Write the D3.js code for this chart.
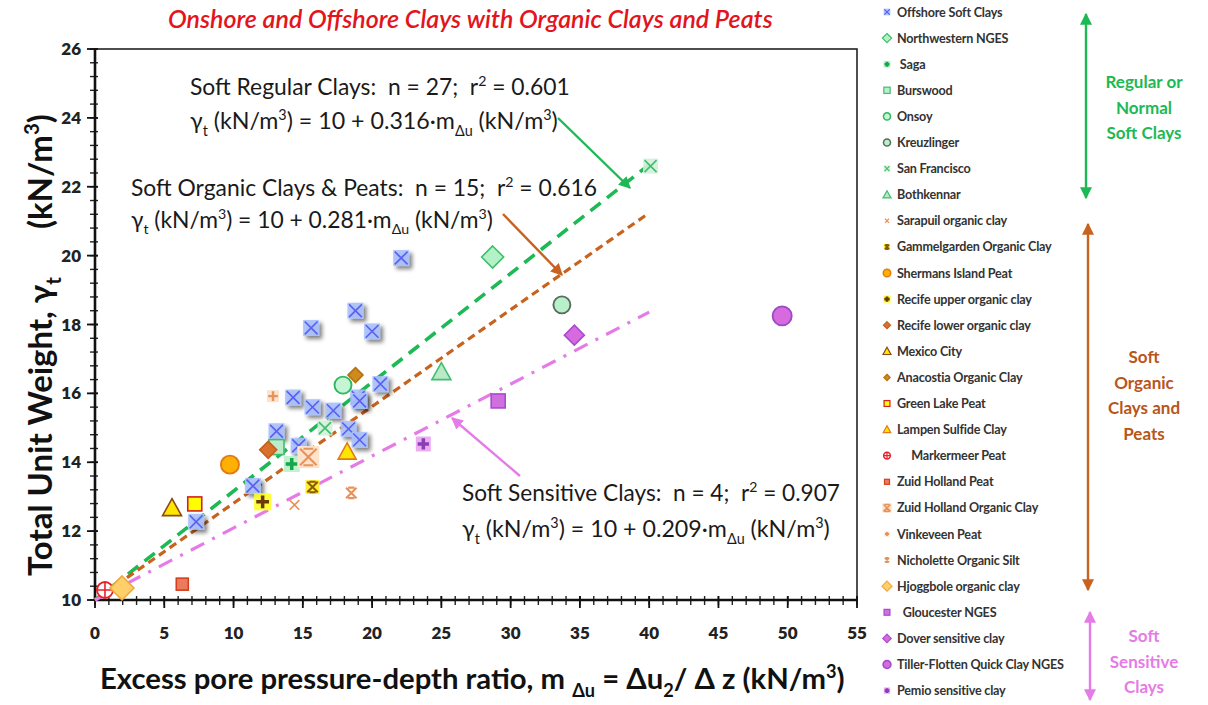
<!DOCTYPE html>
<html>
<head>
<meta charset="utf-8">
<script src="https://cdn.jsdelivr.net/npm/d3@7"></script>
<style>
  body { margin: 0; background: #fff; }
  svg { display: block; font-family: Lato, "Open Sans", sans-serif; }
  text { white-space: pre; }
</style>
</head>
<body>
<svg id="chart" width="1208" height="705"></svg>
<script>
// ---------- data ----------
const xTicks = [0, 5, 10, 15, 20, 25, 30, 35, 40, 45, 50, 55];
const yTicks = [10, 12, 14, 16, 18, 20, 22, 24, 26];

// [m_du (kN/m3), gamma_t (kN/m3)]
const offshoreSoftClays = [
  [22.1, 19.93], [15.6, 17.9], [18.8, 18.4], [20.0, 17.8], [20.6, 16.27],
  [14.3, 15.88], [15.7, 15.6], [17.2, 15.5], [19.0, 15.88], [19.1, 15.78],
  [13.1, 14.9], [14.7, 14.48], [18.3, 14.97], [19.1, 14.65], [11.4, 13.31],
  [7.3, 12.27]
];
const northwesternNGES = [[28.7, 19.96]];
const saga = [[14.2, 13.95]];
const burswood = [[13.1, 14.44]];
const onsoy = [[17.9, 16.24]];
const kreuzlinger = [[33.7, 18.57]];
const sanFrancisco = [[16.6, 14.99], [40.1, 22.6]];
const bothkennar = [[25.0, 16.62]];

const sarapuiOrganic = [[14.4, 12.76]];
const gammelgarden = [[15.7, 13.28]];
const shermansIsland = [[9.74, 13.93]];
const recifeUpper = [[12.1, 12.85]];
const recifeLower = [[12.5, 14.36]];
const mexicoCity = [[5.56, 12.67]];
const anacostia = [[18.8, 16.53]];
const greenLake = [[7.2, 12.79]];
const lampenSulfide = [[18.2, 14.3]];
const markermeer = [[0.72, 10.29]];
const zuidHollandPeat = [[6.3, 10.46]];
const zuidHollandOrganic = [[15.4, 14.15]];
const vinkeveen = [[12.85, 15.92]];
const nicholette = [[18.5, 13.11]];
const hjoggbole = [[1.95, 10.35]];

const gloucester = [[29.1, 15.78]];
const dover = [[34.6, 17.69]];
const tillerFlotten = [[49.6, 18.25]];
const pemio = [[23.7, 14.53]];

const legendNames = [
  "Offshore Soft Clays", "Northwestern NGES", " Saga", "Burswood", "Onsoy",
  "Kreuzlinger", "San Francisco", "Bothkennar", "Sarapuil organic clay",
  "Gammelgarden Organic Clay", "Shermans Island Peat", "Recife upper organic clay",
  "Recife lower organic clay", "Mexico City", "Anacostia Organic Clay",
  "Green Lake Peat", "Lampen Sulfide Clay", "     Markermeer Peat", "Zuid Holland Peat",
  "Zuid Holland Organic Clay", "Vinkeveen Peat", "Nicholette Organic Silt",
  "Hjoggbole organic clay", "  Gloucester NGES", "Dover sensitive clay",
  "Tiller-Flotten Quick Clay NGES", "Pemio sensitive clay"
];
const seriesData = [
  offshoreSoftClays, northwesternNGES, saga, burswood, onsoy, kreuzlinger,
  sanFrancisco, bothkennar, sarapuiOrganic, gammelgarden, shermansIsland,
  recifeUpper, recifeLower, mexicoCity, anacostia, greenLake, lampenSulfide,
  markermeer, zuidHollandPeat, zuidHollandOrganic, vinkeveen, nicholette,
  hjoggbole, gloucester, dover, tillerFlotten, pemio
];

// trend lines: gamma_t = 10 + slope * m_du, for m_du in [0, 40]
const trendSlopes = [0.316, 0.281, 0.209];
const trendCounts = [27, 15, 4];
const trendR2 = [0.601, 0.616, 0.907];
const trendNames = ["Soft Regular Clays", "Soft Organic Clays & Peats", "Soft Sensitive Clays"];
const trendRange = [0, 40];

// ---------- marker styles (per legend entry) ----------
const markerStyle = [
  { shape: "xbox", size: 16, fill: "#a9c1fb", stroke: "#5b5ef3", shadow: true },
  { shape: "diamond", size: 22, fill: "#b4f0c8", stroke: "#3dbf6a" },
  { shape: "plusbox", size: 16, fill: "#b9efcb", stroke: "#14a84a" },
  { shape: "square", size: 15, fill: "#bdeccc", stroke: "#3fbf6c" },
  { shape: "circle", size: 17, fill: "#c5f5d5", stroke: "#2fb85f" },
  { shape: "circle", size: 17, fill: "#b8f0c9", stroke: "#5b6b5e" },
  { shape: "xbox", size: 15, fill: "#d1f1dc", stroke: "#3fbf6c" },
  { shape: "triangle", size: 19, fill: "#b9e9c6", stroke: "#3fbf6c" },
  { shape: "x", size: 12, fill: "none", stroke: "#e8925a" },
  { shape: "asterbox", size: 14, fill: "#ffee33", stroke: "#8a5a00" },
  { shape: "circle", size: 18, fill: "#ffb000", stroke: "#e07b16" },
  { shape: "plusbox", size: 17, fill: "#ffff22", stroke: "#6b3a06" },
  { shape: "diamond", size: 17, fill: "#d9702c", stroke: "#c4601e" },
  { shape: "triangle", size: 19, fill: "#ffe600", stroke: "#8b4a12" },
  { shape: "diamond", size: 15, fill: "#d08a1e", stroke: "#b5700f" },
  { shape: "square", size: 14, fill: "#ffff00", stroke: "#d4201c" },
  { shape: "triangle", size: 18, fill: "#ffe600", stroke: "#e07b16" },
  { shape: "circleplus", size: 16, fill: "#ffffff", stroke: "#e8202a" },
  { shape: "square", size: 12, fill: "#ec7a5e", stroke: "#d4401c" },
  { shape: "asterbox", size: 22, fill: "#fde3cc", stroke: "#e8925a" },
  { shape: "plus", size: 12, fill: "#fde3cc", stroke: "#e8925a" },
  { shape: "aster", size: 14, fill: "none", stroke: "#e8925a" },
  { shape: "diamond", size: 24, fill: "#ffcf6a", stroke: "#f0a83c" },
  { shape: "square", size: 14, fill: "#cf6fe0", stroke: "#a64ccf" },
  { shape: "diamond", size: 20, fill: "#d86ae0", stroke: "#a64ccf" },
  { shape: "circle", size: 19, fill: "#d86ae0", stroke: "#9a4cc7" },
  { shape: "plusbox", size: 15, fill: "#e9a5f0", stroke: "#8a3fb5" }
];

// ---------- layout ----------
const svg = d3.select("#chart");
const x = d3.scaleLinear().domain([0, 55]).range([95, 857]);
const y = d3.scaleLinear().domain([10, 26]).range([600, 49]);

const defs = svg.append("defs");
const sh = defs.append("filter").attr("id", "shadow")
  .attr("x", "-50%").attr("y", "-50%").attr("width", "220%").attr("height", "220%");
sh.append("feGaussianBlur").attr("in", "SourceAlpha").attr("stdDeviation", 2.2).attr("result", "b");
sh.append("feOffset").attr("in", "b").attr("dx", 3).attr("dy", 3).attr("result", "o");
sh.append("feComponentTransfer").attr("in", "o").attr("result", "o2")
  .append("feFuncA").attr("type", "linear").attr("slope", 0.55);
const mg = sh.append("feMerge");
mg.append("feMergeNode").attr("in", "o2");
mg.append("feMergeNode").attr("in", "SourceGraphic");

function arrowDef(id, color) {
  defs.append("marker").attr("id", id)
    .attr("viewBox", "0 0 10 10").attr("refX", 9).attr("refY", 5)
    .attr("markerWidth", 5).attr("markerHeight", 5)
    .attr("markerUnits", "strokeWidth").attr("orient", "auto-start-reverse")
    .append("path").attr("d", "M0,0 L10,5 L0,10 Z").attr("fill", color);
}
arrowDef("arG", "#1db954");
arrowDef("arO", "#c8621e");
arrowDef("arP", "#e57be6");

// rich text helper: parts = [[text, "n"|"sub"|"sup"], ...]
function rich(sel, parts, fs) {
  let shift = 0;
  parts.forEach(([t, mode]) => {
    const target = mode === "sub" ? fs * 0.28 : mode === "sup" ? -fs * 0.38 : 0;
    const ts = sel.append("tspan").attr("dy", target - shift).text(t);
    if (mode !== "n") ts.attr("font-size", fs * 0.62);
    shift = target;
  });
}
// draw rich text, then rescale the font so the run spans the given width
function fitRich(sel, parts, fs0, width) {
  sel.attr("font-size", fs0);
  rich(sel, parts, fs0);
  const w = sel.node().getBBox().width;
  const fs = fs0 * width / w;
  sel.selectAll("tspan").remove();
  sel.attr("font-size", fs);
  rich(sel, parts, fs);
  return fs;
}

// ---------- frame & axes ----------
svg.append("rect").attr("x", 95).attr("y", 49).attr("width", 762).attr("height", 551)
  .attr("fill", "none").attr("stroke", "#222").attr("stroke-width", 1.6);

const axG = svg.append("g");
const yMinor = d3.range(10, 26.001, 0.4);
const xMinor = d3.range(0, 55.001, 1);
axG.selectAll(".ym").data(yMinor).join("line")
  .attr("x1", x(0) - 5).attr("x2", x(0) + 3)
  .attr("y1", d => y(d)).attr("y2", d => y(d)).attr("stroke", "#222").attr("stroke-width", 1.4);
axG.selectAll(".yM").data(yTicks).join("line")
  .attr("x1", x(0) - 8).attr("x2", x(0) + 3)
  .attr("y1", d => y(d)).attr("y2", d => y(d)).attr("stroke", "#111").attr("stroke-width", 1.8);
axG.selectAll(".xm").data(xMinor).join("line")
  .attr("x1", d => x(d)).attr("x2", d => x(d))
  .attr("y1", y(10) - 4).attr("y2", y(10) + 5).attr("stroke", "#222").attr("stroke-width", 1.4);
axG.selectAll(".xM").data(xTicks).join("line")
  .attr("x1", d => x(d)).attr("x2", d => x(d))
  .attr("y1", y(10) - 4).attr("y2", y(10) + 8).attr("stroke", "#111").attr("stroke-width", 1.8);
axG.append("line").attr("x1", x(0)).attr("x2", x(0)).attr("y1", y(26)).attr("y2", y(10))
  .attr("stroke", "#111").attr("stroke-width", 2.6);
axG.append("line").attr("x1", x(0)).attr("x2", x(55)).attr("y1", y(10)).attr("y2", y(10))
  .attr("stroke", "#111").attr("stroke-width", 2.6);

axG.selectAll(".yl").data(yTicks).join("text")
  .attr("x", 81).attr("y", d => y(d)).attr("dy", "0.36em")
  .attr("text-anchor", "end").attr("font-size", 17).attr("font-weight", 800)
  .attr("fill", "#222").text(d => d);
axG.selectAll(".xl").data(xTicks).join("text")
  .attr("x", d => x(d)).attr("y", 639)
  .attr("text-anchor", "middle").attr("font-size", 17).attr("font-weight", 800)
  .attr("fill", "#222").text(d => d);

// axis titles
const xt = svg.append("text").attr("x", 100).attr("y", 689)
  .attr("font-weight", 700).attr("fill", "#111");
fitRich(xt, [["Excess pore pressure-depth ratio, m ", "n"], ["Δu", "sub"], [" = Δu", "n"],
  ["2", "sub"], ["/ Δ z (kN/m", "n"], ["3", "sup"], [")", "n"]], 22, 745);

const yt = svg.append("text").attr("transform", "translate(52,576) rotate(-90)")
  .attr("font-weight", 700).attr("fill", "#111");
fitRich(yt, [["Total Unit Weight, γ", "n"], ["t", "sub"], ["      (kN/m", "n"], ["3", "sup"], [")", "n"]], 22, 462);

// title
const tt = svg.append("text").attr("x", 168).attr("y", 28)
  .attr("font-style", "italic").attr("font-weight", 600).attr("fill", "#e3141c");
fitRich(tt, [["Onshore and Offshore Clays with Organic Clays and Peats", "n"]], 18, 605);

// ---------- trend lines ----------
const trendStyle = [
  { color: "#1db954", dash: "13,8", w: 3.6 },
  { color: "#c8621e", dash: "8,5", w: 3.2 },
  { color: "#e57be6", dash: "15,9,3,9", w: 3.2 }
];
const line = d3.line().x(d => x(d[0])).y(d => y(d[1]));
trendSlopes.forEach((s, i) => {
  const pts = trendRange.map(m => [m, 10 + s * m]);
  svg.append("path").attr("d", line(pts)).attr("fill", "none")
    .attr("stroke", trendStyle[i].color).attr("stroke-width", trendStyle[i].w)
    .attr("stroke-dasharray", trendStyle[i].dash);
});

// ---------- markers ----------
function drawMarker(g, st, scale) {
  const s = st.size * scale, h = s / 2;
  const sw = Math.max(1.2, 1.6 * scale);
  const xs = (r) => `M${-r},${-r}L${r},${r}M${-r},${r}L${r},${-r}`;
  const ps = (r) => `M${-r},0L${r},0M0,${-r}L0,${r}`;
  switch (st.shape) {
    case "xbox":
      g.append("rect").attr("x", -h).attr("y", -h).attr("width", s).attr("height", s)
        .attr("fill", st.fill).attr("opacity", 0.9);
      g.append("path").attr("d", xs(h * 0.8)).attr("stroke", st.stroke).attr("stroke-width", sw);
      break;
    case "diamond":
      g.append("path").attr("d", `M0,${-h}L${h},0L0,${h}L${-h},0Z`)
        .attr("fill", st.fill).attr("stroke", st.stroke).attr("stroke-width", sw);
      break;
    case "square":
      g.append("rect").attr("x", -h).attr("y", -h).attr("width", s).attr("height", s)
        .attr("fill", st.fill).attr("stroke", st.stroke).attr("stroke-width", sw);
      break;
    case "circle":
      g.append("circle").attr("r", h).attr("fill", st.fill).attr("stroke", st.stroke).attr("stroke-width", sw * 1.2);
      break;
    case "triangle":
      g.append("path").attr("d", `M0,${-h}L${h},${h * 0.8}L${-h},${h * 0.8}Z`)
        .attr("fill", st.fill).attr("stroke", st.stroke).attr("stroke-width", sw);
      break;
    case "plusbox":
      g.append("rect").attr("x", -h).attr("y", -h).attr("width", s).attr("height", s)
        .attr("fill", st.fill).attr("opacity", 0.9);
      g.append("path").attr("d", ps(h * 0.75)).attr("stroke", st.stroke).attr("stroke-width", sw * 2.2);
      break;
    case "plus":
      g.append("rect").attr("x", -h).attr("y", -h).attr("width", s).attr("height", s).attr("fill", st.fill);
      g.append("path").attr("d", ps(h * 0.8)).attr("stroke", st.stroke).attr("stroke-width", sw * 1.5);
      break;
    case "x":
      g.append("path").attr("d", xs(h * 0.8)).attr("stroke", st.stroke).attr("stroke-width", sw);
      break;
    case "aster":
    case "asterbox":
      if (st.shape === "asterbox")
        g.append("rect").attr("x", -h).attr("y", -h).attr("width", s).attr("height", s).attr("fill", st.fill);
      g.append("path").attr("d", xs(h * 0.75) + `M${-h * 0.45},${-h * 0.75}L${h * 0.45},${-h * 0.75}M${-h * 0.45},${h * 0.75}L${h * 0.45},${h * 0.75}`)
        .attr("stroke", st.stroke).attr("stroke-width", sw * 1.3);
      break;
    case "circleplus":
      g.append("circle").attr("r", h).attr("fill", st.fill).attr("stroke", st.stroke).attr("stroke-width", sw * 1.2);
      g.append("path").attr("d", ps(h)).attr("stroke", st.stroke).attr("stroke-width", sw);
      break;
  }
}

const markG = svg.append("g");
seriesData.forEach((pts, i) => {
  const st = markerStyle[i];
  pts.forEach(p => {
    const g = markG.append("g").attr("transform", `translate(${x(p[0])},${y(p[1])})`);
    if (st.shadow) g.attr("filter", "url(#shadow)");
    drawMarker(g, st, 1);
  });
});

// ---------- annotations ----------
function annot(px, py, parts, width) {
  const t = svg.append("text").attr("x", px).attr("y", py).attr("fill", "#1a1a1a");
  fitRich(t, parts, 19, width);
}
function headParts(i) {
  return [[`${trendNames[i]}:  n = ${trendCounts[i]};  r`, "n"], ["2", "sup"], [` = ${trendR2[i].toFixed(3)}`, "n"]];
}
function eqParts(slope) {
  return [["γ", "n"], ["t", "sub"], [" (kN/m", "n"], ["3", "sup"], [") = 10 + " + slope.toFixed(3) + "·m", "n"],
    ["Δu", "sub"], [" (kN/m", "n"], ["3", "sup"], [")", "n"]];
}
annot(190, 95, headParts(0), 380);
annot(190, 129, eqParts(trendSlopes[0]), 368);
annot(131, 196, headParts(1), 466);
annot(131, 228, eqParts(trendSlopes[1]), 362);
annot(462, 501, headParts(2), 378);
annot(462, 537, eqParts(trendSlopes[2]), 368);

function arrow(x1, y1, x2, y2, color, id, both) {
  const l = svg.append("line").attr("x1", x1).attr("y1", y1).attr("x2", x2).attr("y2", y2)
    .attr("stroke", color).attr("stroke-width", 2.4).attr("marker-end", `url(#${id})`);
  if (both) l.attr("marker-start", `url(#${id})`);
}
arrow(558, 118, 630, 188, "#1db954", "arG");
arrow(503, 214, 562, 275, "#c8621e", "arO");
arrow(520, 476, 452, 418, "#e57be6", "arP");

// ---------- legend ----------
const legG = svg.append("g");
legendNames.forEach((name, i) => {
  const ly = 12 + i * 26.1;
  const g = legG.append("g").attr("transform", `translate(887,${ly})`);
  drawMarker(g, { ...markerStyle[i], shadow: false }, 0.42);
  legG.append("text").attr("x", 897).attr("y", ly).attr("dy", "0.36em")
    .attr("font-size", 12.6).attr("font-weight", 700).attr("fill", "#333")
    .attr("letter-spacing", -0.2).text(name);
});

// ---------- group brackets ----------
arrow(1086, 14, 1086, 198, "#1db954", "arG", true);
arrow(1088, 224, 1088, 590, "#c8621e", "arO", true);
arrow(1090, 612, 1090, 700, "#e57be6", "arP", true);

function groupLabel(lines, cx, y0, color) {
  lines.forEach((t, i) => svg.append("text").attr("x", cx).attr("y", y0 + i * 25.5)
    .attr("text-anchor", "middle").attr("font-size", 17).attr("font-weight", 700)
    .attr("fill", color).text(t));
}
groupLabel(["Regular or", "Normal", "Soft Clays"], 1144, 88, "#1db954");
groupLabel(["Soft", "Organic", "Clays and", "Peats"], 1144, 363, "#b8561a");
groupLabel(["Soft", "Sensitive", "Clays"], 1144, 642, "#e57be6");
</script>
</body>
</html>
